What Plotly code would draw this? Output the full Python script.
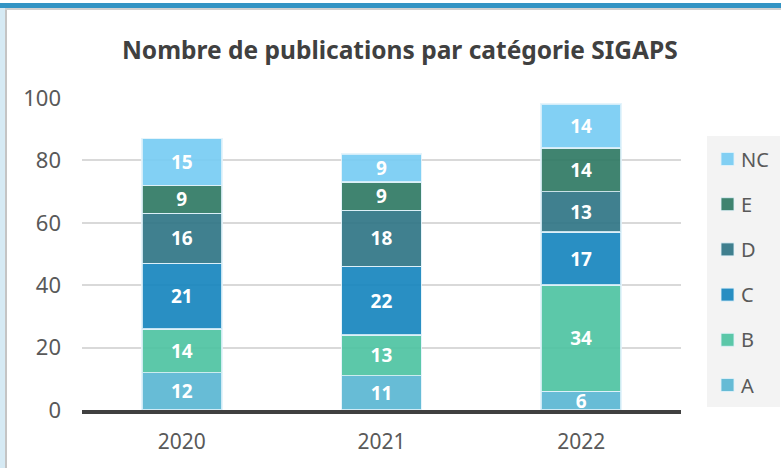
import plotly.graph_objects as go

# Publications per SIGAPS category and year
years = ["2020", "2021", "2022"]
categories = ["A", "B", "C", "D", "E", "NC"]
counts = {
    "A":  [12, 11, 6],
    "B":  [14, 13, 34],
    "C":  [21, 22, 17],
    "D":  [16, 18, 13],
    "E":  [9, 9, 14],
    "NC": [15, 9, 14],
}
colors = {
    "A":  "rgba(86,181,209,0.9)",
    "B":  "rgba(74,194,160,0.9)",
    "C":  "rgba(18,131,189,0.9)",
    "D":  "rgba(43,114,131,0.9)",
    "E":  "rgba(43,119,96,0.9)",
    "NC": "rgba(116,203,243,0.9)",
}
y_ticks = [0, 20, 40, 60, 80, 100]

FONT = "Noto Sans"
W, H = 781, 468
ML, MR, MT, MB = 82, 100, 98, 58

def px_x(p):
    return (p - ML) / (W - ML - MR)

def px_y(p):
    return (H - MB - p) / (H - MT - MB)

fig = go.Figure()
for cat in categories:
    fig.add_trace(go.Bar(
        name=cat,
        x=years,
        y=counts[cat],
        text=[str(v) for v in counts[cat]],
        textposition="inside",
        insidetextanchor="middle",
        constraintext="none",
        textangle=0,
        textfont=dict(family=FONT, size=19, color="white", weight="bold"),
        marker=dict(color=colors[cat],
                    line=dict(color="rgba(225,242,250,0.85)", width=1.5)),
        showlegend=False,
    ))

shapes = [
    # legend background
    dict(type="rect", xref="paper", yref="paper",
         x0=px_x(707), x1=px_x(780), y0=px_y(407), y1=px_y(136),
         fillcolor="#f3f3f3", line=dict(width=0), layer="below"),
    # frame: top band, left strip
    dict(type="rect", xref="paper", yref="paper",
         x0=px_x(0), x1=px_x(W), y0=px_y(8), y1=px_y(3),
         fillcolor="#3394c4", line=dict(width=0)),
    dict(type="rect", xref="paper", yref="paper",
         x0=px_x(0), x1=px_x(W), y0=px_y(10), y1=px_y(8),
         fillcolor="#d0d0d0", line=dict(width=0)),
    dict(type="rect", xref="paper", yref="paper",
         x0=px_x(0), x1=px_x(5), y0=px_y(H), y1=px_y(8),
         fillcolor="#d6eaf4", line=dict(width=0)),
    dict(type="rect", xref="paper", yref="paper",
         x0=px_x(5), x1=px_x(7), y0=px_y(H), y1=px_y(10),
         fillcolor="#c4c4c4", line=dict(width=0)),
]

# legend entries, top to bottom: NC ... A
annotations = []
legend_top, legend_step = 159, 45.2
for i, cat in enumerate(reversed(categories)):
    cy = legend_top + i * legend_step
    shapes.append(dict(type="rect", xref="paper", yref="paper",
                       x0=px_x(721), x1=px_x(734),
                       y0=px_y(cy + 6.5), y1=px_y(cy - 6.5),
                       fillcolor=colors[cat],
                       line=dict(color="rgba(225,242,250,0.85)", width=1)))
    annotations.append(dict(text=cat, xref="paper", yref="paper",
                            x=px_x(739), y=px_y(cy), xanchor="left",
                            yanchor="middle", showarrow=False,
                            font=dict(family=FONT, size=20, color="#595959")))

fig.update_layout(
    width=W, height=H,
    margin=dict(l=ML, r=MR, t=MT, b=MB),
    paper_bgcolor="white",
    plot_bgcolor="white",
    barmode="stack",
    bargap=0.6,
    showlegend=False,
    font=dict(family=FONT, color="#595959"),
    title=dict(text="<b>Nombre de publications par catégorie SIGAPS</b>",
               x=0.512, xanchor="center", y=1 - 50 / H, yanchor="middle",
               font=dict(family=FONT, size=24.5, color="#404040")),
    xaxis=dict(showgrid=False, showline=True, linecolor="#404040", linewidth=4,
               ticks="", tickfont=dict(size=21, color="#595959"),
               ticklabelstandoff=10),
    yaxis=dict(range=[0, 100], tickvals=y_ticks, showgrid=True,
               gridcolor="#d9d9d9", gridwidth=1.5, zeroline=False,
               showline=False, ticks="",
               tickfont=dict(size=22, color="#595959"),
               ticklabelstandoff=20),
    shapes=shapes,
    annotations=annotations,
)

fig.write_html("out.html")
